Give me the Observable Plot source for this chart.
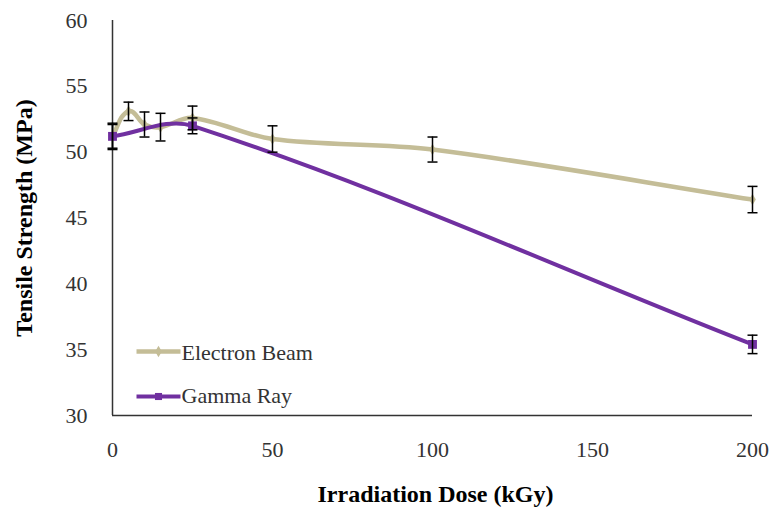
<!DOCTYPE html>
<html>
<head>
<meta charset="utf-8">
<script src="https://cdn.jsdelivr.net/npm/d3@7"></script>
<script src="https://cdn.jsdelivr.net/npm/@observablehq/plot@0.6"></script>
<style>
  html, body { margin: 0; padding: 0; background: #fff; }
  #chart svg text { font-family: 'Liberation Serif', 'Times New Roman', serif !important; }
</style>
</head>
<body>
<div id="chart"></div>
<script>
// Electron Beam series
const doseEB = [0, 5, 10, 15, 25, 50, 100, 200];
const tsEB   = [51.2, 53.1, 52.1, 51.9, 52.6, 51.0, 50.2, 46.4];
const errEB  = [1.0, 0.7, 0.95, 1.05, 0.9, 1.0, 0.95, 1.0];
// Gamma Ray series
const doseGR = [0, 25, 200];
const tsGR   = [51.2, 52.0, 35.4];
const errGR  = [0.9, 0.6, 0.7];
// ticks
const xTicks = [0, 50, 100, 150, 200];
const yTicks = [30, 35, 40, 45, 50, 55, 60];
const seriesNames = ["Electron Beam", "Gamma Ray"];
const xTitle = "Irradiation Dose (kGy)";
const yTitle = "Tensile Strength (MPa)";

const colEB = "#c4bd97";
const colGR = "#7030a0";

const eb = doseEB.map((d, i) => ({dose: d, ts: tsEB[i], lo: tsEB[i] - errEB[i], hi: tsEB[i] + errEB[i]}));
const gr = doseGR.map((d, i) => ({dose: d, ts: tsGR[i], lo: tsGR[i] - errGR[i], hi: tsGR[i] + errGR[i]}));
const bars = eb.concat(gr);

// spreadsheet-style smoothed line: Bezier with tangent along neighbours' chord
function smoothCurve(context) {
  let pts = [];
  return {
    areaStart() {}, areaEnd() {},
    lineStart() { pts = []; },
    point(x, y) { pts.push([+x, +y]); },
    lineEnd() {
      const n = pts.length;
      if (!n) return;
      context.moveTo(pts[0][0], pts[0][1]);
      if (n === 1) return;
      const T = pts.map((p, i) => {
        const a = pts[Math.max(0, i - 1)], b = pts[Math.min(n - 1, i + 1)];
        const dx = b[0] - a[0], dy = b[1] - a[1];
        const l = Math.hypot(dx, dy) || 1;
        return [dx / l, dy / l];
      });
      for (let i = 0; i < n - 1; i++) {
        const p = pts[i], q = pts[i + 1];
        const L = Math.hypot(q[0] - p[0], q[1] - p[1]) / 3;
        context.bezierCurveTo(
          p[0] + T[i][0] * L, p[1] + T[i][1] * L,
          q[0] - T[i + 1][0] * L, q[1] - T[i + 1][1] * L,
          q[0], q[1]);
      }
    }
  };
}

const capSymbol = {
  draw(ctx, size) {
    const r = Math.sqrt(size / Math.PI);
    ctx.moveTo(-r, 0);
    ctx.lineTo(r, 0);
  }
};

const font = "'Liberation Serif', 'Times New Roman', serif";

const chart = Plot.plot({
  width: 771,
  height: 507,
  marginLeft: 112,
  marginRight: 19,
  marginTop: 20,
  marginBottom: 92,
  style: {fontFamily: font, fontSize: "22px", color: "#333", background: "#fff"},
  x: {domain: [0, 200], ticks: xTicks, tickSize: 0, tickPadding: 26, label: null},
  y: {domain: [30, 60], ticks: yTicks, tickSize: 0, tickPadding: 25, label: null},
  marks: [
    Plot.ruleX([0], {stroke: "#333", strokeWidth: 1.5}),
    Plot.ruleY([30], {stroke: "#333", strokeWidth: 1.5}),
    Plot.line(eb, {x: "dose", y: "ts", stroke: colEB, strokeWidth: 4.5, curve: smoothCurve}),
    Plot.dot(eb, {x: "dose", y: "ts", symbol: "diamond", r: 3.5, fill: colEB}),
    Plot.line(gr, {x: "dose", y: "ts", stroke: colGR, strokeWidth: 4, curve: smoothCurve}),
    Plot.dot(gr, {x: "dose", y: "ts", symbol: "square", r: 5, fill: colGR}),
    Plot.ruleX(bars, {x: "dose", y1: "lo", y2: "hi", stroke: "#000", strokeWidth: 1.5}),
    Plot.dot(bars, {x: "dose", y: "lo", symbol: capSymbol, r: 5, stroke: "#000", strokeWidth: 1.5}),
    Plot.dot(bars, {x: "dose", y: "hi", symbol: capSymbol, r: 5, stroke: "#000", strokeWidth: 1.5}),
    // legend
    Plot.dot([seriesNames[0]], {frameAnchor: "top-left", dx: 46, dy: 331, symbol: capSymbol, r: 22, stroke: colEB, strokeWidth: 4.5}),
    Plot.dot([seriesNames[0]], {frameAnchor: "top-left", dx: 46, dy: 331, symbol: "diamond", r: 3.5, fill: colEB}),
    Plot.text([seriesNames[0]], {frameAnchor: "top-left", dx: 69, dy: 332, text: d => d, textAnchor: "start", lineAnchor: "middle", fontSize: 22, fill: "#333"}),
    Plot.dot([seriesNames[1]], {frameAnchor: "top-left", dx: 46, dy: 376, symbol: capSymbol, r: 22, stroke: colGR, strokeWidth: 4}),
    Plot.dot([seriesNames[1]], {frameAnchor: "top-left", dx: 46, dy: 376, symbol: "square", r: 4, fill: colGR}),
    Plot.text([seriesNames[1]], {frameAnchor: "top-left", dx: 69, dy: 375, text: d => d, textAnchor: "start", lineAnchor: "middle", fontSize: 22, fill: "#333"}),
    // axis titles
    Plot.text([xTitle], {frameAnchor: "bottom", dy: 79, dx: 3, text: d => d, textAnchor: "middle", lineAnchor: "middle", fontSize: 24, fontWeight: "bold", fill: "#000"}),
    Plot.text([yTitle], {frameAnchor: "left", dx: -88, text: d => d, rotate: -90, textAnchor: "middle", lineAnchor: "middle", fontSize: 24, fontWeight: "bold", fill: "#000"})
  ]
});
document.getElementById("chart").appendChild(chart);
</script>
</body>
</html>
